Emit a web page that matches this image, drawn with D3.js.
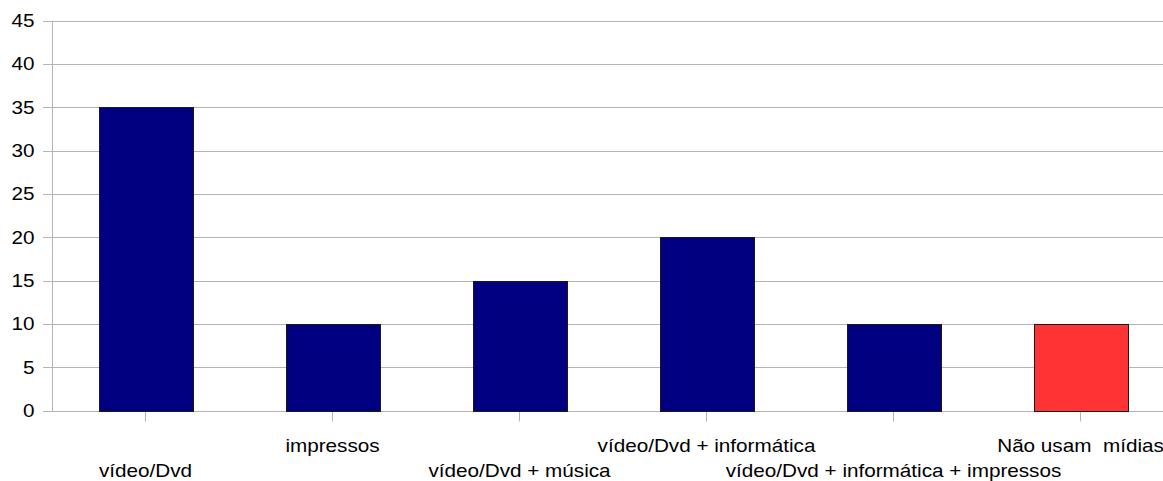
<!DOCTYPE html>
<html><head><meta charset="utf-8">
<script src="https://cdn.jsdelivr.net/npm/d3@7"></script>
<style>
html,body{margin:0;padding:0;background:#fff;overflow:hidden;}
text{font-family:"Liberation Sans",Arial,sans-serif;fill:#000;}
</style></head>
<body>
<svg id="c" width="1163" height="481"></svg>
<script>
const categories = ["vídeo/Dvd","impressos","vídeo/Dvd + música","vídeo/Dvd + informática","vídeo/Dvd + informática + impressos","Não usam  mídias"];
const values = [35,10,15,20,10,10];
const barColors = ["#000080","#000080","#000080","#000080","#000080","#ff3333"];
const yTicks = [0,5,10,15,20,25,30,35,40,45];

(function(){
const svg = d3.select("#c");
const pLeft = 52, pRight = 1174, pTop = 20.5, pBottom = 410.5;
const sx = 1.15;
const x = d3.scaleBand().domain(categories).range([pLeft, pRight]).paddingInner(0.5).paddingOuter(0.25);
const y = d3.scaleLinear().domain([0,45]).range([pBottom, pTop]);

// gridlines
svg.append("g").selectAll("line").data(yTicks).join("line")
  .attr("x1", pLeft - 9).attr("x2", pRight)
  .attr("y1", d => Math.round(y(d)) + 0.5).attr("y2", d => Math.round(y(d)) + 0.5)
  .attr("stroke", "#b3b3b3").attr("stroke-width", 1);

// y axis line
svg.append("line").attr("x1", pLeft + 0.5).attr("x2", pLeft + 0.5)
  .attr("y1", pTop).attr("y2", pBottom + 0.5).attr("stroke", "#b3b3b3");

// y labels
svg.append("g").selectAll("text").data(yTicks).join("text")
  .attr("transform", d => `translate(34.5,${y(d)}) scale(${sx},1)`)
  .attr("dy", "0.36em")
  .attr("text-anchor", "end").attr("font-size", 18).text(d => d);

// category ticks
const bw = x.bandwidth();
svg.append("g").selectAll("line").data(categories).join("line")
  .attr("x1", d => Math.round(x(d) + bw / 2) - 0.5).attr("x2", d => Math.round(x(d) + bw / 2) - 0.5)
  .attr("y1", pBottom).attr("y2", pBottom + 11)
  .attr("stroke", "#b3b3b3");

// bars
svg.append("g").selectAll("rect").data(categories).join("rect")
  .attr("x", d => Math.round(x(d)) + 0.5)
  .attr("y", (d, i) => Math.round(y(values[i])) + 0.5)
  .attr("width", Math.round(bw))
  .attr("height", (d, i) => Math.round(y(0)) - Math.round(y(values[i])))
  .attr("fill", (d, i) => barColors[i])
  .attr("stroke", "#1a1a1a").attr("stroke-width", 1);

// category labels (staggered)
svg.append("g").selectAll("text").data(categories).join("text")
  .attr("transform", (d, i) => `translate(${x(d) + bw / 2},${i % 2 === 0 ? 477 : 452}) scale(${sx},1)`)
  .attr("text-anchor", "middle").attr("font-size", 18)
  .attr("xml:space", "preserve").style("white-space", "pre")
  .text(d => d);
})();
</script>
</body></html>
